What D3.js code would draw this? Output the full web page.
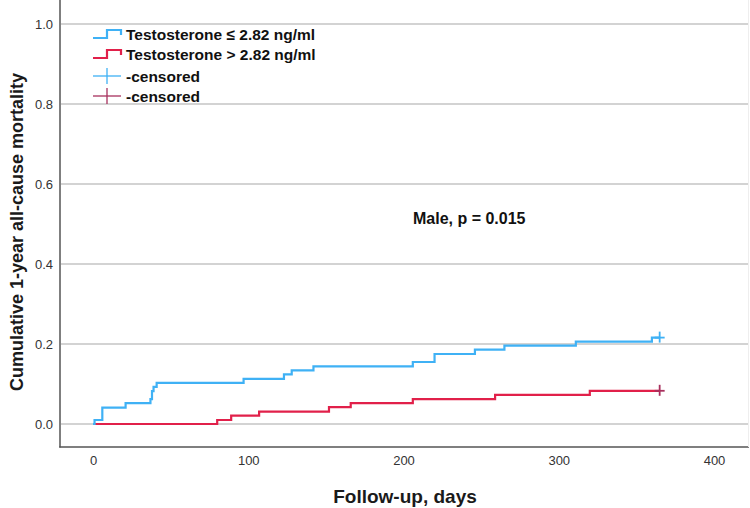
<!DOCTYPE html>
<html><head><meta charset="utf-8">
<script src="https://cdn.jsdelivr.net/npm/d3@7"></script>
<style>body{margin:0;background:#fff}svg{display:block;font-family:Arial,"Liberation Sans",sans-serif}</style>
</head><body>
<svg id="c" width="750" height="508"></svg>
<script>
// ---- data ----
const lowDays   = [0, 1, 6, 21, 37, 38, 39, 41, 97, 123, 128, 142, 206, 220, 246, 265, 311, 360, 365];
const lowCum    = [0, 0.010, 0.041, 0.052, 0.062, 0.082, 0.093, 0.103, 0.113, 0.124, 0.134, 0.144, 0.155, 0.175, 0.186, 0.196, 0.206, 0.216, 0.216];
const highDays  = [0, 80, 89, 107, 152, 166, 206, 259, 320, 365];
const highCum   = [0, 0.010, 0.021, 0.031, 0.042, 0.052, 0.062, 0.073, 0.083, 0.083];
const censorLow  = [[365, 0.216]];
const censorHigh = [[365, 0.083]];
const xTicks = [0, 100, 200, 300, 400];
const yTicks = [0.0, 0.2, 0.4, 0.6, 0.8, 1.0];
const legendLabels = ["Testosterone \u2264 2.82 ng/ml", "Testosterone > 2.82 ng/ml", "-censored", "-censored"];
const annotation = "Male, p = 0.015";

const blue = "#3fb1f5", red = "#e1204a", redCensor = "#a8305e";

const svg = d3.select("#c");
const x = d3.scaleLinear().domain([0, 400]).range([93, 714]);
const y = d3.scaleLinear().domain([0, 1]).range([424, 24]);

// gridlines
svg.append("g").selectAll("line").data(yTicks).join("line")
  .attr("x1", 61).attr("x2", 748)
  .attr("y1", d => y(d)).attr("y2", d => y(d))
  .attr("stroke", "#c4c4c4").attr("stroke-width", 1.5);

// axes frame
svg.append("line").attr("x1", 60).attr("x2", 60).attr("y1", 0).attr("y2", 447.5)
  .attr("stroke", "#555").attr("stroke-width", 1.5);
svg.append("line").attr("x1", 59.25).attr("x2", 749).attr("y1", 447).attr("y2", 447)
  .attr("stroke", "#555").attr("stroke-width", 1.5);
svg.append("line").attr("x1", 748.5).attr("x2", 748.5).attr("y1", 0).attr("y2", 447)
  .attr("stroke", "#eee").attr("stroke-width", 1);

// tick labels
const yAxis = d3.axisLeft(y).tickValues(yTicks).tickFormat(d3.format(".1f")).tickSize(0).tickPadding(7);
const gy = svg.append("g").attr("transform", "translate(60,0)").call(yAxis);
gy.select(".domain").remove();
gy.selectAll("text").attr("font-size", 13).attr("fill", "#333").attr("font-family", "Arial,'Liberation Sans',sans-serif");

const xAxis = d3.axisBottom(x).tickValues(xTicks).tickFormat(d3.format("d")).tickSize(0).tickPadding(9);
const gx = svg.append("g").attr("transform", "translate(0,447)").call(xAxis);
gx.select(".domain").remove();
gx.selectAll("text").attr("font-size", 13).attr("fill", "#333").attr("font-family", "Arial,'Liberation Sans',sans-serif");

// axis titles
svg.append("text").attr("x", 405).attr("y", 503).attr("text-anchor", "middle")
  .attr("font-size", 19).attr("font-weight", "bold").attr("fill", "#1a1a1a").text("Follow-up, days");
svg.append("text").attr("transform", "translate(23,232) rotate(-90)").attr("text-anchor", "middle")
  .attr("font-size", 18).attr("font-weight", "bold").attr("fill", "#1a1a1a").text("Cumulative 1-year all-cause mortality");

// curves
const line = d3.line().x(d => x(d[0])).y(d => y(d[1])).curve(d3.curveStepAfter);
const lowData = lowDays.map((d, i) => [d, lowCum[i]]);
const highData = highDays.map((d, i) => [d, highCum[i]]);
svg.append("path").attr("d", line(highData)).attr("fill", "none").attr("stroke", red).attr("stroke-width", 2.2);
svg.append("path").attr("d", line(lowData)).attr("fill", "none").attr("stroke", blue).attr("stroke-width", 2.2);

function censor(data, color) {
  const g = svg.append("g");
  data.forEach(p => {
    g.append("line").attr("x1", x(p[0]) - 5).attr("x2", x(p[0]) + 5).attr("y1", y(p[1])).attr("y2", y(p[1]))
      .attr("stroke", color).attr("stroke-width", 1.8);
    g.append("line").attr("x1", x(p[0])).attr("x2", x(p[0])).attr("y1", y(p[1]) - 6).attr("y2", y(p[1]) + 5)
      .attr("stroke", color).attr("stroke-width", 1.8);
  });
}
censor(censorLow, blue);
censor(censorHigh, redCensor);

// legend
const rows = [34, 54, 76, 96];
const legColors = [blue, red, blue, redCensor];
rows.forEach((cy, i) => {
  if (i < 2) {
    svg.append("path").attr("d", `M93,${cy + 4}H107V${cy - 4}H121V${cy + 1}`)
      .attr("fill", "none").attr("stroke", legColors[i]).attr("stroke-width", 2.2);
  } else {
    svg.append("line").attr("x1", 93).attr("x2", 121).attr("y1", cy).attr("y2", cy)
      .attr("stroke", legColors[i]).attr("stroke-width", 1.3);
    svg.append("line").attr("x1", 107).attr("x2", 107).attr("y1", cy - 8).attr("y2", cy + 8)
      .attr("stroke", legColors[i]).attr("stroke-width", 1.3);
  }
  svg.append("text").attr("x", 126).attr("y", cy + 5.5).attr("font-size", 15.5).attr("font-weight", "bold")
    .attr("fill", "#111").text(legendLabels[i]);
});

// annotation
svg.append("text").attr("x", 413).attr("y", 224).attr("font-size", 16).attr("font-weight", "bold")
  .attr("fill", "#111").text(annotation);
</script>
</body></html>
